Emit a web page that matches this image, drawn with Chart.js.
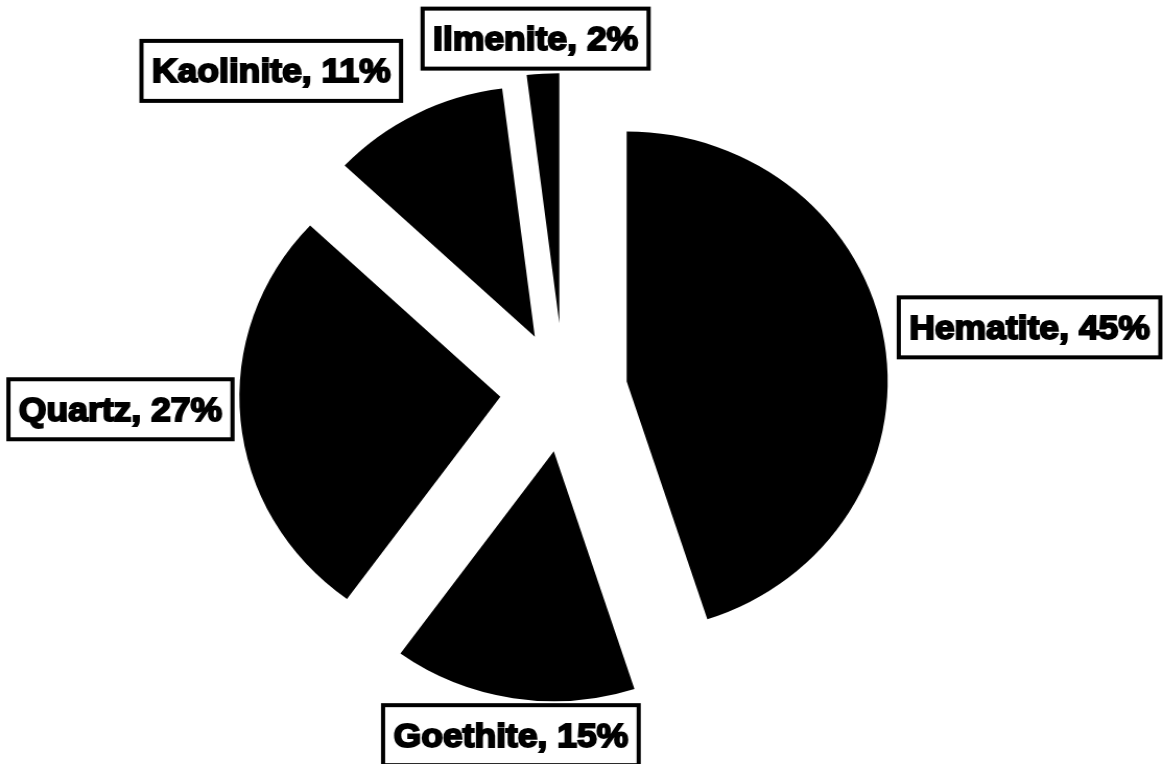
<!DOCTYPE html>
<html>
<head>
<meta charset="utf-8">
<script src="https://cdn.jsdelivr.net/npm/chart.js@4.4.1/dist/chart.umd.min.js"></script>
<style>
  html, body { margin: 0; padding: 0; background: #fff; overflow: hidden; }
  /* the pie is drawn a little wider than tall */
  #wrap { width: 1114px; height: 764px; transform: scaleX(1.044); transform-origin: 0 0; }
</style>
</head>
<body>
<div id="wrap"><canvas id="pie"></canvas></div>
<script>
const minerals = ['Hematite', 'Goethite', 'Quartz', 'Kaolinite', 'Ilmenite'];
const shares = [45, 15, 27, 11, 2];

// how far each wedge is pulled out of the pie, px
const explode = [61, 61, 61, 61, 68];
// label box shift from the outer middle of its wedge
const labelNudge = [[139, -15], [-2, 37], [-115, -11], [-139, -43], [-7, -35]];

const PIE_RADIUS = 250;

// move each arc's centre out along its middle angle; Chart.js's own
// offset also trims the arc angle, which makes thin wedges too narrow
const explodeArcs = {
  id: 'explodeArcs',
  afterDatasetsUpdate(chart) {
    const meta = chart.getDatasetMeta(0);
    meta.data.forEach((arc, i) => {
      const mid = (arc.startAngle + arc.endAngle) / 2;
      arc.x += Math.cos(mid) * explode[i];
      arc.y += Math.sin(mid) * explode[i];
    });
  }
};

// boxed "Name, NN%" labels outside each wedge
const boxLabels = {
  id: 'boxLabels',
  afterDraw(chart) {
    const ctx = chart.ctx;
    const meta = chart.getDatasetMeta(0);
    ctx.save();
    ctx.font = 'bold 34px "Liberation Sans", Arial, sans-serif';
    ctx.textAlign = 'center';
    ctx.textBaseline = 'middle';
    meta.data.forEach((arc, i) => {
      const mid = (arc.startAngle + arc.endAngle) / 2;
      const x = arc.x + Math.cos(mid) * PIE_RADIUS + labelNudge[i][0];
      const y = arc.y + Math.sin(mid) * PIE_RADIUS + labelNudge[i][1];
      const text = minerals[i] + ', ' + shares[i] + '%';
      const w = ctx.measureText(text).width + 20;
      const h = 60;
      ctx.fillStyle = '#fff';
      ctx.fillRect(x - w / 2, y - h / 2, w, h);
      ctx.lineWidth = 4;
      ctx.strokeStyle = '#000';
      ctx.strokeRect(x - w / 2, y - h / 2, w, h);
      ctx.fillStyle = '#000';
      ctx.lineWidth = 2;
      ctx.fillText(text, x, y + 2);
      ctx.strokeText(text, x, y + 2);
    });
    ctx.restore();
  }
};

new Chart(document.getElementById('pie'), {
  type: 'pie',
  data: {
    labels: minerals,
    datasets: [{
      data: shares,
      backgroundColor: '#000',
      borderWidth: 0
    }]
  },
  options: {
    responsive: true,
    maintainAspectRatio: false,
    animation: false,
    events: [],
    radius: PIE_RADIUS,
    layout: { padding: { left: 0, right: 34, top: 18, bottom: 0 } },
    plugins: {
      legend: { display: false },
      tooltip: { enabled: false }
    }
  },
  plugins: [explodeArcs, boxLabels]
});
</script>
</body>
</html>
